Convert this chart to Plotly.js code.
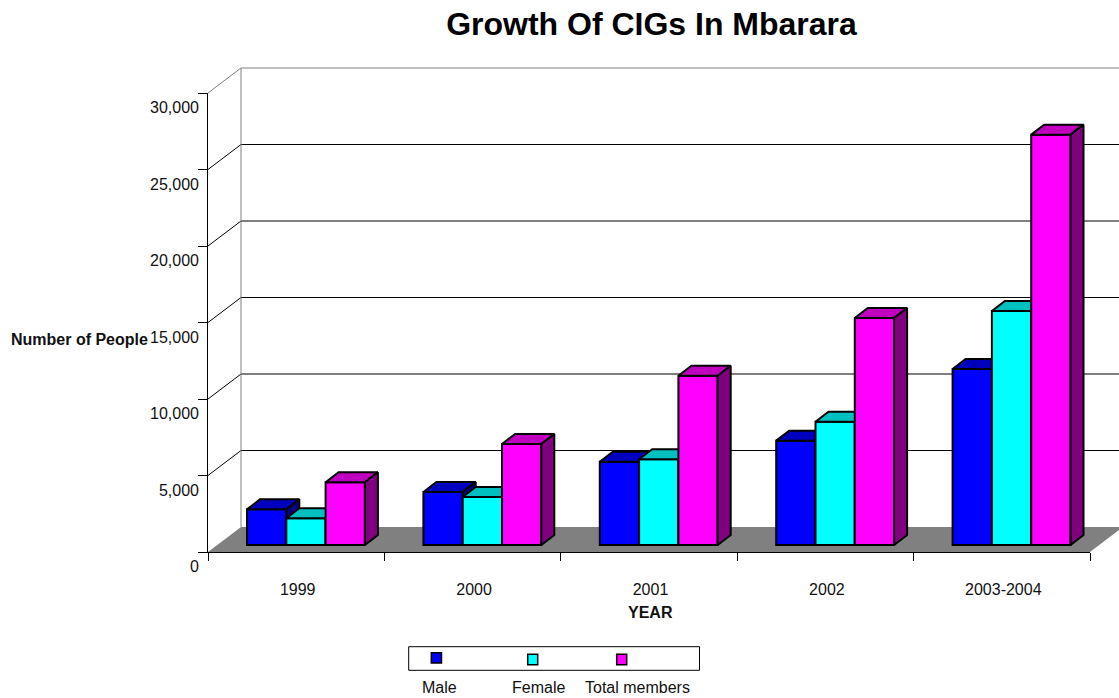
<!DOCTYPE html>
<html>
<head>
<meta charset="utf-8">
<script src="https://cdn.plot.ly/plotly-3.0.1.min.js"></script>
<style>html,body{margin:0;padding:0;background:#fff}#chart{width:1119px;height:698px}</style>
</head>
<body>
<div id="chart"></div>
<script>
const categories = ['1999', '2000', '2001', '2002', '2003-2004'];
const male = [2330, 3460, 5440, 6820, 11500];
const female = [1750, 3140, 5600, 8060, 15290];
const totalMembers = [4100, 6600, 11060, 14840, 26820];
const yTicks = [0, 5000, 10000, 15000, 20000, 25000, 30000];
const seriesNames = ['Male', 'Female', 'Total members'];

const W = 1119, H = 698;
const px = {left: 208, right: 1090, top: 93, bottom: 552, plotTop: 60};
const unitX = (px.right - px.left) / categories.length;
const unitY = (px.bottom - px.top) / 30000;
const dx = p => p / unitX;
const dy = p => p / unitY;

const wallDX = dx(33), wallDY = dy(25);
const barDX = dx(13), barDY = dy(10);
const barBase = dy(7), barStart = dx(39), barW = dx(39.3);
const edgeW = 2;

const styles = [
  {front: '#0000FF', top: '#0000BF', side: '#000080', vals: male, axis: 'y2'},
  {front: '#00FFFF', top: '#00BFBF', side: '#008080', vals: female, axis: 'y3'},
  {front: '#FF00FF', top: '#BF00BF', side: '#800080', vals: totalMembers, axis: 'y4'}
];

const traces = [];
const nCat = categories.length;
const yMax = yTicks[yTicks.length - 1];
const line = (x, y, color, width) => ({x, y, type: 'scatter', mode: 'lines', line: {width, color}, hoverinfo: 'skip', showlegend: false});

// floor
traces.push({x: [0, wallDX, nCat + wallDX, nCat, 0], y: [0, wallDY, wallDY, 0, 0], type: 'scatter', mode: 'lines',
  fill: 'toself', fillcolor: '#808080', line: {width: 0, color: '#808080'}, hoverinfo: 'skip', showlegend: false});

// wall gridlines
yTicks.slice(1, -1).forEach(v => traces.push(line([0, wallDX, nCat + wallDX], [v, v + wallDY, v + wallDY], '#000', 1)));

// wall outline
traces.push(line([wallDX, wallDX, null, 0, wallDX, nCat + wallDX], [wallDY, yMax + wallDY, null, yMax, yMax + wallDY, yMax + wallDY], '#808080', 1));

styles.forEach((s, j) => {
  const x0 = s.vals.map((_, i) => i + barStart + j * barW);
  traces.push({type: 'bar', name: seriesNames[j], x: x0.map(x => x + barW / 2), y: s.vals, base: s.vals.map(() => barBase), width: barW,
    xaxis: 'x', yaxis: s.axis, marker: {color: s.front, line: {color: '#000', width: edgeW}}, showlegend: false});
  const topX = [], topY = [], sideX = [], sideY = [];
  s.vals.forEach((v, i) => {
    const l = x0[i], r = l + barW, t = barBase + v, b = barBase;
    topX.push(l, l + barDX, r + barDX, r, l, null);
    topY.push(t, t + barDY, t + barDY, t, t, null);
    sideX.push(r, r + barDX, r + barDX, r, r, null);
    sideY.push(t, t + barDY, b + barDY, b, t, null);
  });
  [[topX, topY, s.top], [sideX, sideY, s.side]].forEach(f => traces.push({x: f[0], y: f[1], type: 'scatter', mode: 'lines',
    xaxis: 'x', yaxis: s.axis, fill: 'toself', fillcolor: f[2], line: {color: '#000', width: edgeW}, hoverinfo: 'skip', showlegend: false}));
});

// empty traces that bring the front-frame axes and the shifted tick-label axis into being
const labelAxisRange = [-(H - 566.5) / unitY, 566.5 / unitY];
traces.push({x: [0, nCat], y: [0, yMax], xaxis: 'x2', yaxis: 'y6', type: 'scatter', mode: 'lines', line: {width: 0}, hoverinfo: 'skip', showlegend: false});
traces.push({x: [0, 0], y: [0, yMax], xaxis: 'x2', yaxis: 'y5', type: 'scatter', mode: 'lines', line: {width: 0}, hoverinfo: 'skip', showlegend: false});

const FS = 16;
const family = '"Liberation Sans", Arial, sans-serif';
const font = {family, color: '#111', size: FS};
const boldFont = {family, color: '#111', size: FS, weight: 700};
const pxX = p => p / W, pxY = p => 1 - p / H;
const yRange = [0, (px.bottom - px.plotTop) / unitY];
const domainY = [pxY(px.bottom), pxY(px.plotTop)];
const overlay = () => ({overlaying: 'y', domain: domainY, range: yRange, visible: false, fixedrange: true});

const paperRect = (x0, x1, y0, y1, fill, w) => ({type: 'rect', xref: 'paper', yref: 'paper', x0: pxX(x0), x1: pxX(x1), y0: pxY(y1), y1: pxY(y0),
  fillcolor: fill, line: {color: '#000', width: w}, layer: 'above'});
const legendLabels = [[439.3, seriesNames[0]], [538.7, seriesNames[1]], [637.3, seriesNames[2]]];

const layout = {
  width: W, height: H,
  margin: {l: 0, r: 0, t: 0, b: 0},
  paper_bgcolor: '#fff', plot_bgcolor: 'rgba(0,0,0,0)',
  barmode: 'overlay', showlegend: false,
  title: {text: '<b>Growth Of CIGs In Mbarara</b>', font: {family, size: 32, color: '#000'},
    x: pxX(651.5), xanchor: 'center', xref: 'paper', y: pxY(24), yanchor: 'middle', yref: 'paper'},
  xaxis: {domain: [pxX(px.left), 1], range: [0, (W - px.left) / unitX], type: 'linear', visible: false, anchor: 'y', fixedrange: true},
  yaxis: {domain: domainY, range: yRange, visible: false, anchor: 'x', fixedrange: true},
  yaxis2: overlay(), yaxis3: overlay(), yaxis4: overlay(),
  xaxis2: {domain: [pxX(px.left), pxX(px.right)], range: [0, nCat], type: 'linear', showgrid: false, zeroline: false,
    showline: true, linecolor: '#000', linewidth: 1,
    tickmode: 'array', tickvals: categories.map((_, i) => i + 0.5 + dx(1.5)), ticktext: categories, ticks: '', ticklabelstandoff: 23,
    tickfont: font, anchor: 'y6',
    minor: {tickmode: 'array', tickvals: [0, 1, 2, 3, 4, 5], ticks: 'outside', ticklen: 8, tickcolor: '#000', tickwidth: 1, showgrid: false},
    fixedrange: true},
  yaxis6: {domain: [pxY(px.bottom), pxY(px.top)], range: [0, yMax], showgrid: false, zeroline: false, showline: true, linecolor: '#000', linewidth: 1,
    tickmode: 'array', tickvals: yTicks, showticklabels: false, ticks: 'outside', ticklen: 9, tickcolor: '#000', tickwidth: 1,
    anchor: 'x2', fixedrange: true},
  yaxis5: {domain: [0, 1], range: labelAxisRange, anchor: 'free', position: pxX(px.left), side: 'left', showgrid: false, zeroline: false, showline: false,
    tickmode: 'array', tickvals: yTicks, ticktext: yTicks.map(v => v.toLocaleString('en-US')), ticks: '', ticklabelstandoff: 9, tickfont: font, fixedrange: true},
  shapes: [
    paperRect(408.7, 699.5, 646.7, 670.3, 'rgba(255,255,255,0)', 1),
    paperRect(431.3, 441.5, 652.7, 663, styles[0].front, 1.5),
    paperRect(527.7, 537.7, 654.3, 664.7, styles[1].front, 1.5),
    paperRect(616.7, 626.7, 654.3, 664.7, styles[2].front, 1.5)
  ],
  annotations: [
    {text: '<b>Number of People</b>', xref: 'paper', yref: 'paper', x: pxX(79.5), y: pxY(339), xanchor: 'center', yanchor: 'middle', showarrow: false, font: boldFont},
    {text: '<b>YEAR</b>', xref: 'paper', yref: 'paper', x: pxX(650), y: pxY(612), xanchor: 'center', yanchor: 'middle', showarrow: false, font: boldFont}
  ].concat(legendLabels.map(l => ({text: l[1], xref: 'paper', yref: 'paper', x: pxX(l[0]), y: pxY(687.5), xanchor: 'center', yanchor: 'middle', showarrow: false, font: font})))
};

Plotly.newPlot('chart', traces, layout, {staticPlot: true, displayModeBar: false});
</script>
</body>
</html>
